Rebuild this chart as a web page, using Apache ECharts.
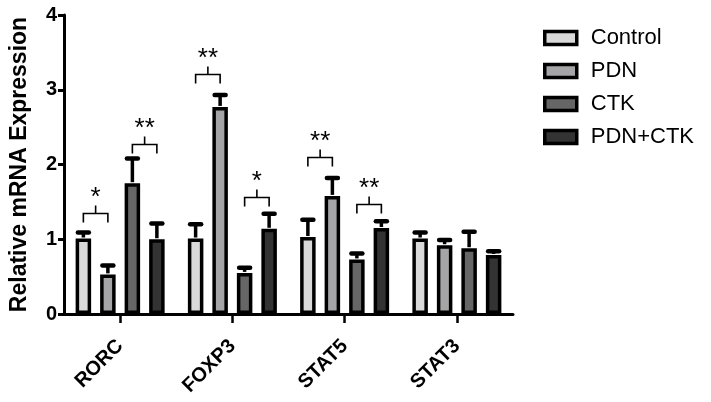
<!DOCTYPE html>
<html><head><meta charset="utf-8">
<script src="https://cdn.jsdelivr.net/npm/echarts@6/dist/echarts.min.js"></script>
<style>html,body{margin:0;padding:0;background:#fff}#c{width:711px;height:402px}</style>
</head><body><div id="c"></div>
<script>
var categories = ['RORC', 'FOXP3', 'STAT5', 'STAT3'];
var seriesNames = ['Control', 'PDN', 'CTK', 'PDN+CTK'];
var controlMean = [1.01, 1.01, 1.03, 1.01];
var controlErr  = [1.09, 1.20, 1.26, 1.09];
var pdnMean     = [0.53, 2.77, 1.58, 0.92];
var pdnErr      = [0.65, 2.93, 1.82, 0.99];
var ctkMean     = [1.75, 0.55, 0.73, 0.88];
var ctkErr      = [2.08, 0.62, 0.81, 1.10];
var comboMean   = [1.00, 1.14, 1.15, 0.79];
var comboErr    = [1.21, 1.34, 1.24, 0.84];
var colors = ['#d9d9d9', '#a5a5a7', '#666666', '#333333'];
// significance brackets: category, left bar index, right bar index, height, label
var sigCat   = [0, 0, 1, 1, 2, 2];
var sigLeft  = [0, 2, 0, 2, 0, 2];
var sigRight = [1, 3, 1, 3, 1, 3];
var sigY     = [1.35, 2.28, 3.21, 1.57, 2.10, 1.47];
var sigLabel = ['*', '**', '**', '*', '**', '**'];

var means = [controlMean, pdnMean, ctkMean, comboMean];
var errs = [controlErr, pdnErr, ctkErr, comboErr];
var BW = 15.5, PITCH = 24.5;
function barOffset(i) { return (i - 1.5) * PITCH; }
var FONT = '"Liberation Sans", Arial, Helvetica, sans-serif';

var series = [];
seriesNames.forEach(function (n, i) {
  series.push({
    name: n, type: 'bar', data: means[i], barWidth: BW, barGap: ((PITCH - BW) / BW * 100) + '%',
    itemStyle: { color: colors[i], borderColor: '#000', borderWidth: 3.5 },
    z: 2
  });
});
seriesNames.forEach(function (n, i) {
  series.push({
    type: 'custom', z: 3, silent: true,
    data: categories.map(function (c, k) { return [k, means[i][k], errs[i][k]]; }),
    renderItem: function (params, api) {
      var base = api.coord([api.value(0), api.value(1)]);
      var top = api.coord([api.value(0), api.value(2)]);
      var x = base[0] + barOffset(i);
      return { type: 'group', children: [
        { type: 'line', shape: { x1: x, y1: base[1] - 1, x2: x, y2: top[1] }, style: { stroke: '#000', lineWidth: 3.5 } },
        { type: 'line', shape: { x1: x - 5.5, y1: top[1], x2: x + 5.5, y2: top[1] }, style: { stroke: '#000', lineWidth: 4.5, lineCap: 'round' } }
      ]};
    }
  });
});
series.push({
  type: 'custom', z: 4, silent: true,
  data: sigCat.map(function (c, k) { return [c, sigLeft[k], sigRight[k], sigY[k], k]; }),
  renderItem: function (params, api) {
    var p = api.coord([api.value(0), api.value(3)]);
    var xl = p[0] + barOffset(api.value(1));
    var xr = p[0] + barOffset(api.value(2));
    var xm = (xl + xr) / 2, y = Math.round(p[1]) + 0.5;
    var k = api.value(4);
    return { type: 'group', children: [
      { type: 'polyline', shape: { points: [[xl, y + 9], [xl, y], [xr, y], [xr, y + 9]] }, style: { stroke: '#000', lineWidth: 1.6, fill: null } },
      { type: 'line', shape: { x1: xm, y1: y, x2: xm, y2: y - 8 }, style: { stroke: '#000', lineWidth: 1.6 } },
      { type: 'text', x: xm, y: y - 3, style: { text: sigLabel[k], fill: '#000', font: '26px ' + FONT, align: 'center', verticalAlign: 'bottom' } }
    ]};
  }
});

var chart = echarts.init(document.getElementById('c'));
chart.setOption({
  animation: false,
  backgroundColor: '#fff',
  grid: { left: 63, right: 198, top: 15, bottom: 88 },
  legend: {
    orient: 'vertical', left: 543, top: 27, itemGap: 11, padding: 0,
    data: seriesNames, icon: 'rect', itemWidth: 32, itemHeight: 13,
    itemStyle: { borderColor: '#000', borderWidth: 3.5 },
    textStyle: { fontFamily: FONT, fontSize: 22, lineHeight: 22, color: '#000', padding: [0, 0, 0, 9] }
  },
  xAxis: {
    type: 'category', data: categories,
    axisLine: { lineStyle: { color: '#000', width: 3 } },
    axisTick: { show: true, interval: 0, alignWithLabel: true, inside: false, length: 9, lineStyle: { width: 2.5, color: '#000' } },
    axisLabel: { interval: 0, rotate: 45, margin: 29, color: '#000', fontFamily: FONT, fontWeight: 'bold', fontSize: 20 }
  },
  yAxis: {
    type: 'value', min: 0, max: 4, interval: 1,
    name: 'Relative mRNA Expression', nameLocation: 'middle', nameGap: 33,
    nameTextStyle: { color: '#000', fontFamily: FONT, fontWeight: 'bold', fontSize: 23 },
    axisLine: { show: true, lineStyle: { color: '#000', width: 3 } },
    axisTick: { show: true, length: 6, lineStyle: { width: 3, color: '#000' } },
    splitLine: { show: false },
    axisLabel: { margin: 7, color: '#000', fontFamily: FONT, fontWeight: 'bold', fontSize: 20 }
  },
  series: series
});
</script></body></html>
